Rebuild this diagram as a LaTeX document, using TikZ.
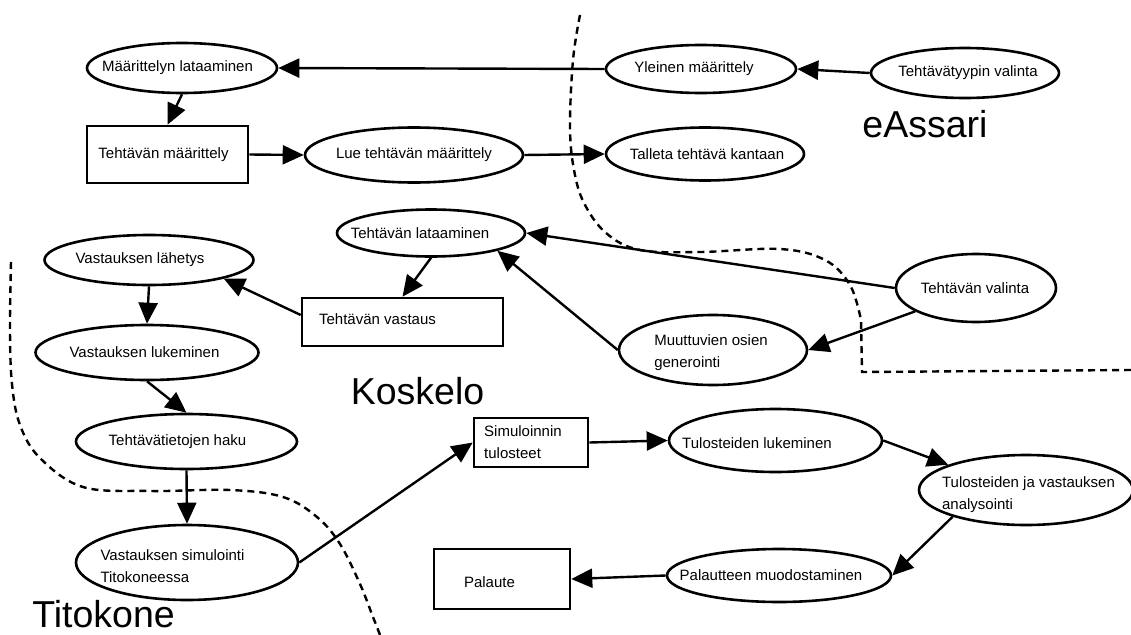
\documentclass[tikz,border=0pt]{standalone}
\usepackage{fontspec}
\setmainfont{Liberation Sans}
\usetikzlibrary{shapes.geometric,arrows.meta}
\tikzset{
  ell/.style={draw, ellipse, line width=2.6pt, inner sep=0pt},
  box/.style={draw, rectangle, line width=2.6pt, inner sep=0pt},
  arr/.style={line width=2.4pt, -{Triangle[length=21pt,width=19pt]}},
  region/.style={dash pattern=on 7pt off 5pt, line width=2.4pt},
  area/.style={font=\fontsize{37.5}{40}\selectfont, anchor=base, inner sep=0pt},
  every label/.style={font=\fontsize{15}{22}\selectfont, align=left, inner sep=0pt},
}
\begin{document}
\begin{tikzpicture}[x=1pt,y=-1pt]
\fill[white] (0,0) rectangle (1131,634);
\useasboundingbox (0,0) rectangle (1131,634);

% region borders
\draw[region] plot[smooth, tension=0.6] coordinates {(580,15) (573,60) (570,127) (574,170) (584,203) (606,233) (640,250) (700,252) (780,249) (825,260) (850,285) (861,320)} -- (862,372) -- (1131,370);
\draw[region] plot[smooth, tension=0.6] coordinates {(11,262) (10,330) (12,384) (20,425) (40,458) (83,487) (150,491) (230,490) (283,497) (317,517) (340,544) (360,584) (373,617) (382,640)};

% region names
\node[area] (eassari) at (925,137) {eAssari};
\node[area] (koskelo) at (417.5,404) {Koskelo};
\node[area] (titokone) at (103.5,627) {Titokone};

% nodes
\node[ell, minimum width=190pt, minimum height=50pt, label={[xshift=-4.5pt]center:Määrittelyn lataaminen}] (maar) at (182,68) {};
\node[box, minimum width=161pt, minimum height=57pt, label={[xshift=-4pt]center:Tehtävän määrittely}] (tm) at (167.5,154.5) {};
\node[ell, minimum width=218pt, minimum height=55pt, label={center:Lue tehtävän määrittely}] (lue) at (414,155) {};
\node[ell, minimum width=190pt, minimum height=48pt, label={[xshift=-7pt]center:Yleinen määrittely}] (yle) at (701,69) {};
\node[ell, minimum width=188pt, minimum height=50pt, label={[xshift=3pt]center:Tehtävätyypin valinta}] (tyyp) at (965,73) {};
\node[ell, minimum width=198pt, minimum height=53pt, label={[xshift=2pt]center:Talleta tehtävä kantaan}] (tal) at (705,154) {};
\node[ell, minimum width=188pt, minimum height=47pt, label={[xshift=-11pt]center:Tehtävän lataaminen}] (lat) at (431,233) {};
\node[ell, minimum width=160pt, minimum height=68pt, label={[xshift=-1pt]center:Tehtävän valinta}] (val) at (976,288) {};
\node[ell, minimum width=188pt, minimum height=70pt, label={[xshift=-2pt,yshift=-3pt]center:{Muuttuvien osien\\generointi}}] (muut) at (713,350) {};
\node[box, minimum width=201pt, minimum height=48pt, label={[xshift=-25pt,yshift=3pt]center:Tehtävän vastaus}] (vast) at (402.5,322) {};
\node[ell, minimum width=209pt, minimum height=50pt, label={[xshift=-9pt]center:Vastauksen lähetys}] (lah) at (149,260) {};
\node[ell, minimum width=223pt, minimum height=55pt, label={[xshift=-2.5pt]center:Vastauksen lukeminen}] (luk) at (147,352.5) {};
\node[ell, minimum width=221pt, minimum height=55pt, label={[xshift=-9pt]center:Tehtävätietojen haku}] (tiet) at (186.5,441.5) {};
\node[ell, minimum width=222pt, minimum height=75pt, label={[xshift=-14.5pt,yshift=-4pt]center:{Vastauksen simulointi\\Titokoneessa}}] (sim) at (187,562.5) {};
\node[box, minimum width=114pt, minimum height=49pt, label={[xshift=-8pt]center:{Simuloinnin\\tulosteet}}] (simtul) at (531,442.5) {};
\node[ell, minimum width=213pt, minimum height=63pt, label={[xshift=-18.5pt,yshift=-3pt]center:Tulosteiden lukeminen}] (tlu) at (775.5,440.5) {};
\node[ell, minimum width=214pt, minimum height=70pt, label={[xshift=2.5pt,yshift=-4.5pt]center:{Tulosteiden ja vastauksen\\analysointi}}] (ana) at (1026,490) {};
\node[ell, minimum width=224pt, minimum height=53pt, label={[xshift=-8pt]center:Palautteen muodostaminen}] (pal) at (779,575.5) {};
\node[box, minimum width=136pt, minimum height=60pt, label={[xshift=-12.5pt,yshift=-3pt]center:Palaute}] (palaute) at (502,579) {};

% connectors
\draw[arr] (yle.west) -- (maar.east);
\draw[arr] (tyyp.west) -- (yle.east);
\draw[arr] (maar.south) -- (tm.north);
\draw[arr] (tm.east) -- (lue.west);
\draw[arr] (lue.east) -- (tal.west);
\draw[arr] (val.west) -- (lat.east);
\draw[arr] (val.201) -- (muut.east);
\draw[arr] (muut.west) -- (lat.-15);
\draw[arr] (lat.south) -- (vast.north);
\draw[arr] ([yshift=7pt]vast.west) -- (lah.-14);
\draw[arr] (lah.south) -- (luk.north);
\draw[arr] (luk.south) -- (tiet.north);
\draw[arr] (tiet.south) -- (sim.north);
\draw[arr] (sim.east) -- (simtul.west);
\draw[arr] (simtul.east) -- (tlu.west);
\draw[arr] (tlu.east) -- (ana.162);
\draw[arr] (ana.200) -- (pal.east);
\draw[arr] (pal.west) -- (palaute.east);
\end{tikzpicture}
\end{document}
